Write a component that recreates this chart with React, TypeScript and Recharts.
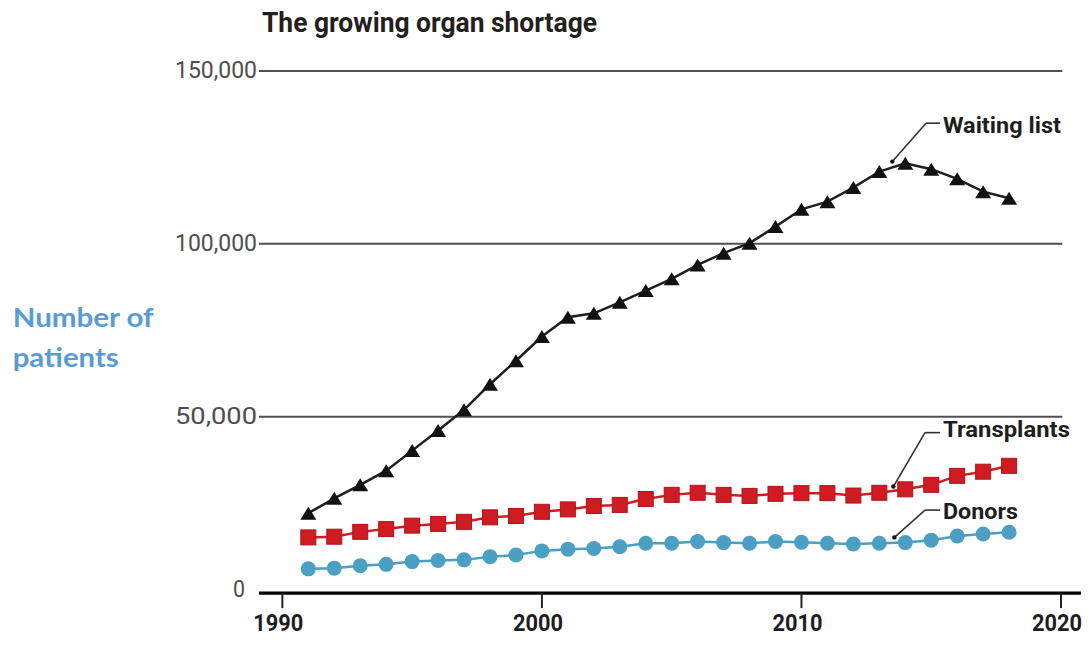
import React from 'react';
import { LineChart, Line, XAxis, YAxis, ReferenceLine, ReferenceDot } from 'recharts';

// Annual US organ transplant figures, 1991–2018
const YEARS = [
  1991, 1992, 1993, 1994, 1995, 1996, 1997, 1998, 1999, 2000, 2001, 2002, 2003, 2004,
  2005, 2006, 2007, 2008, 2009, 2010, 2011, 2012, 2013, 2014, 2015, 2016, 2017, 2018,
];
const WAITING_LIST = [
  22100, 26400, 30300, 34400, 40200, 46000, 52000, 59400, 66200, 73200, 78800, 79900, 83100, 86500,
  89900, 93900, 97300, 100200, 105000, 110000, 112200, 116300, 120900, 123300, 121600, 118800, 115100, 113200,
];
const TRANSPLANTS = [
  15100, 15300, 16700, 17500, 18500, 19000, 19600, 20900, 21300, 22500, 23200, 24200, 24500, 26200,
  27400, 28000, 27400, 27100, 27700, 27900, 27900, 27200, 28000, 29000, 30300, 32900, 34100, 35800,
];
const DONORS = [
  6000, 6200, 6900, 7300, 8100, 8400, 8600, 9500, 10000, 11200, 11700, 11900, 12400, 13400,
  13400, 13900, 13600, 13400, 13900, 13700, 13400, 13200, 13400, 13600, 14300, 15500, 16100, 16600,
];

const X_TICKS = [1990, 2000, 2010, 2020];
const Y_TICKS = [0, 50000, 100000, 150000];
const GRID_VALUES = [50000, 100000, 150000];

const TITLE = 'The growing organ shortage';
const SIDE_LABEL = ['Number of', 'patients'];

// Callout labels: text, the point the leader starts from, its elbow, and where the text sits
const CALLOUT_NAMES = ['Waiting list', 'Transplants', 'Donors'];
const CALLOUT_ANCHOR = [
  [2013.5, 123800],
  [2013.54, 29800],
  [2013.58, 15100],
];
const CALLOUT_ELBOW = [
  [2014.8, 134900],
  [2014.76, 45400],
  [2014.76, 23000],
];
const CALLOUT_TEXT = [
  [2015.45, 132200],
  [2015.45, 44100],
  [2015.45, 20300],
];

const rows = YEARS.map((year, i) => ({
  year,
  waiting: WAITING_LIST[i],
  transplants: TRANSPLANTS[i],
  donors: DONORS[i],
}));

const X_DOMAIN: [number, number] = [1989.1, 2020.77];
const GRID_END = 2020.05;
const LEADER_END = 2015.34;

const RED = '#cf1b22';
const BLUE = '#4a9fc3';
const INK = '#1e1e1e';
const CONDENSED = 'Roboto, "Liberation Sans", sans-serif';
const CALLOUT_WIDTHS = [118, 127, 75];

const fmt = (v: number) => v.toLocaleString('en-US');

const Triangle = (p: any) => {
  const { cx, cy, index } = p;
  if (cx == null || cy == null) return <g key={`t-${index}`} />;
  return (
    <polygon
      key={`t-${index}`}
      points={`${cx},${cy - 6.5} ${cx - 8},${cy + 6.5} ${cx + 8},${cy + 6.5}`}
      fill="#111"
    />
  );
};

const Square = (p: any) => {
  const { cx, cy, index } = p;
  if (cx == null || cy == null) return <g key={`s-${index}`} />;
  return (
    <rect
      key={`s-${index}`}
      x={cx - 7.5}
      y={cy - 7.5}
      width={15}
      height={15}
      fill={RED}
      stroke="#b0141a"
      strokeWidth={1}
    />
  );
};

const Dot = (p: any) => {
  const { cx, cy, index } = p;
  if (cx == null || cy == null) return <g key={`c-${index}`} />;
  return <circle key={`c-${index}`} cx={cx} cy={cy} r={7.5} fill={BLUE} />;
};

const YTick = (p: any) => {
  const { x, y, payload } = p;
  const v = payload.value as number;
  const label = fmt(v);
  return (
    <text
      x={v === 0 ? x - 14 : x - 2}
      y={y + 7}
      textAnchor="end"
      fill="#4e4e4e"
      fontFamily={CONDENSED}
      fontSize={24}
      textLength={v === 0 ? 12 : 82}
      lengthAdjust="spacingAndGlyphs"
    >
      {label}
    </text>
  );
};

const XTick = (p: any) => {
  const { x, y, payload } = p;
  return (
    <text
      x={x - 4}
      y={y + 26}
      textAnchor="middle"
      fill={INK}
      fontFamily={CONDENSED}
      fontWeight={700}
      fontSize={24}
      textLength={50}
      lengthAdjust="spacingAndGlyphs"
    >
      {payload.value}
    </text>
  );
};

const calloutText = (name: string, width: number) => (p: any) => (
  <text
    x={p.cx}
    y={p.cy}
    fill={INK}
    fontFamily={CONDENSED}
    fontWeight={700}
    fontSize={22}
    textLength={width}
    lengthAdjust="spacingAndGlyphs"
  >
    {name}
  </text>
);

export default function App() {
  return (
    <div style={{ position: 'absolute', left: 0, top: 0, width: 1089, height: 653, background: '#fff' }}>
      <LineChart
        width={1089}
        height={653}
        data={rows}
        margin={{ top: 71, right: 8, bottom: 3.4, left: 0 }}
      >
        <XAxis
          type="number"
          dataKey="year"
          domain={X_DOMAIN}
          ticks={X_TICKS}
          height={60}
          tickSize={15}
          tickMargin={0}
          axisLine={{ stroke: '#000', strokeWidth: 3.3, transform: 'translate(0,3.5)' }}
          tickLine={{ stroke: '#222', strokeWidth: 2, transform: 'translate(0,3.5)' }}
          tick={<XTick />}
          interval={0}
        />
        <YAxis
          type="number"
          domain={[0, 150000]}
          ticks={Y_TICKS}
          width={259}
          axisLine={false}
          tickLine={false}
          tickSize={0}
          tickMargin={0}
          tick={<YTick />}
          interval={0}
        />
        {GRID_VALUES.map((v) => (
          <ReferenceLine
            key={`grid-${v}`}
            segment={[
              { x: X_DOMAIN[0], y: v },
              { x: GRID_END, y: v },
            ]}
            stroke="#505050"
            strokeWidth={2}
          />
        ))}
        <Line
          dataKey="donors"
          stroke={BLUE}
          strokeWidth={2.5}
          dot={Dot}
          isAnimationActive={false}
        />
        <Line
          dataKey="transplants"
          stroke={RED}
          strokeWidth={2.5}
          dot={Square}
          isAnimationActive={false}
        />
        <Line
          dataKey="waiting"
          stroke={INK}
          strokeWidth={2.5}
          dot={Triangle}
          isAnimationActive={false}
        />
        {CALLOUT_NAMES.map((name, i) => (
          <ReferenceLine
            key={`lead-a-${name}`}
            segment={[
              { x: CALLOUT_ANCHOR[i][0], y: CALLOUT_ANCHOR[i][1] },
              { x: CALLOUT_ELBOW[i][0], y: CALLOUT_ELBOW[i][1] },
            ]}
            stroke="#333"
            strokeWidth={1.6}
          />
        ))}
        {CALLOUT_NAMES.map((name, i) => (
          <ReferenceLine
            key={`lead-b-${name}`}
            segment={[
              { x: CALLOUT_ELBOW[i][0], y: CALLOUT_ELBOW[i][1] },
              { x: LEADER_END, y: CALLOUT_ELBOW[i][1] },
            ]}
            stroke="#333"
            strokeWidth={1.6}
          />
        ))}
        {CALLOUT_NAMES.map((name, i) => (
          <ReferenceDot
            key={`dot-${name}`}
            x={CALLOUT_ANCHOR[i][0]}
            y={CALLOUT_ANCHOR[i][1]}
            r={2.2}
            fill="#111"
            stroke="none"
          />
        ))}
        {CALLOUT_NAMES.map((name, i) => (
          <ReferenceDot
            key={`label-${name}`}
            x={CALLOUT_TEXT[i][0]}
            y={CALLOUT_TEXT[i][1]}
            r={0}
            shape={calloutText(name, CALLOUT_WIDTHS[i])}
          />
        ))}
      </LineChart>
      <svg
        width={1089}
        height={653}
        style={{ position: 'absolute', left: 0, top: 0, pointerEvents: 'none' }}
      >
        <text
          x={262}
          y={31.7}
          fill="#231f20"
          fontFamily={CONDENSED}
          fontWeight={700}
          fontSize={27}
          textLength={335}
          lengthAdjust="spacingAndGlyphs"
        >
          {TITLE}
        </text>
        <text
          x={12.7}
          y={326.7}
          fill="#5b9bd5"
          fontFamily='Lato, "Open Sans", sans-serif'
          fontWeight={700}
          fontSize={27}
          textLength={141}
          lengthAdjust="spacingAndGlyphs"
        >
          {SIDE_LABEL[0]}
        </text>
        <text
          x={12.7}
          y={367}
          fill="#5b9bd5"
          fontFamily='Lato, "Open Sans", sans-serif'
          fontWeight={700}
          fontSize={27}
          textLength={106}
          lengthAdjust="spacingAndGlyphs"
        >
          {SIDE_LABEL[1]}
        </text>
      </svg>
    </div>
  );
}
